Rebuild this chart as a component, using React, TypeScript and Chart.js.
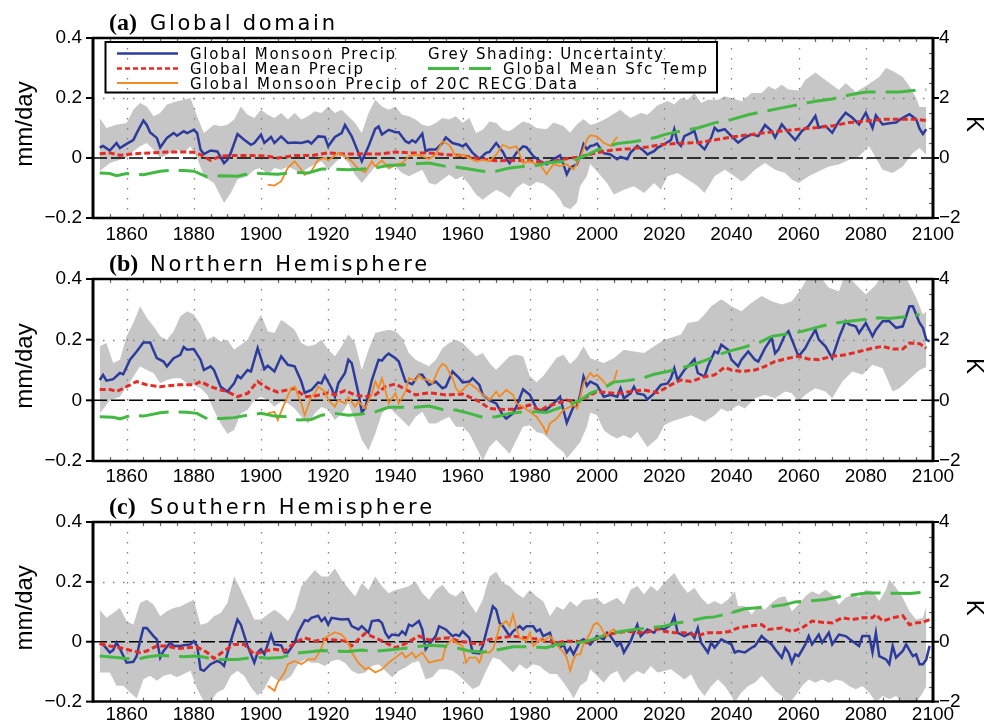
import React, { useEffect, useRef } from 'react';
import { Chart, registerables } from 'chart.js';
Chart.register(...registerables);

type P = [number, number];

// ---------- axis / tick data ----------
const xTickYears = [1860, 1880, 1900, 1920, 1940, 1960, 1980, 2000, 2020, 2040, 2060, 2080, 2100];
const gridYears = [1860, 1880, 1900, 1920, 1940, 1960, 1980, 2000, 2020, 2040, 2060, 2080];
const leftTickValues = [-0.2, 0, 0.2, 0.4];
const leftTickLabels = ['\u22120.2', '0', '0.2', '0.4'];
const rightTickValues = [-2, 0, 2, 4];
const rightTickLabels = ['\u22122', '0', '2', '4'];
const panelLetters = ['(a)', '(b)', '(c)'];
const panelTitles = ['Global domain', 'Northern Hemisphere', 'Southern Hemisphere'];
const leftAxisTitle = 'mm/day';
const rightAxisTitle = 'K';
const legendMonsoon = 'Global Monsoon Precip';
const legendMean = 'Global Mean Precip';
const legendRecg = 'Global Monsoon Precip of 20C RECG Data';
const legendShading = 'Grey Shading: Uncertainty';
const legendTemp = 'Global Mean Sfc Temp';

// ---------- (a) Global domain ----------
const aMonsoon: P[] = [[1852,0.035],[1853,0.04],[1855,0.025],[1857,0.05],[1858,0.033],[1860,0.047],[1862,0.06],[1863,0.083],[1865,0.125],[1866,0.11],[1867,0.085],[1869,0.067],[1870,0.035],[1872,0.067],[1874,0.083],[1875,0.074],[1877,0.089],[1878,0.083],[1880,0.094],[1881,0.083],[1882,0.028],[1883,0.013],[1885,0.025],[1887,0.022],[1889,-0.017],[1890,-0.006],[1891,0.017],[1893,0.08],[1895,0.061],[1897,0.044],[1898,0.05],[1900,0.078],[1901,0.05],[1903,0.07],[1904,0.05],[1906,0.072],[1908,0.05],[1910,0.052],[1912,0.05],[1914,0.056],[1915,0.048],[1917,0.072],[1919,0.07],[1920,0.039],[1922,0.07],[1924,0.083],[1925,0.11],[1927,0.072],[1929,0.017],[1930,-0.011],[1932,0.039],[1934,0.097],[1935,0.105],[1936,0.078],[1938,0.094],[1940,0.086],[1941,0.086],[1943,0.056],[1944,0.05],[1945,0.059],[1946,0.052],[1947,0.067],[1948,0.081],[1949,0.022],[1950,0.028],[1952,0.028],[1954,0.05],[1955,0.069],[1957,0.05],[1959,0.044],[1960,0.039],[1961,0.047],[1963,0.017],[1965,-0.003],[1967,0.017],[1968,0.02],[1970,0.05],[1972,0.02],[1973,-0.003],[1974,-0.017],[1976,0.017],[1978,0.039],[1979,0.036],[1981,0.007],[1983,-0.01],[1985,-0.021],[1987,-0.004],[1989,0.009],[1990,-0.021],[1991,-0.054],[1992,-0.032],[1994,-0.021],[1995,0.007],[1996,0.046],[1997,0.029],[1998,0.04],[1999,0.042],[2000,0.048],[2002,0.016],[2004,0.012],[2006,-0.004],[2007,0.004],[2009,-0.004],[2010,0.018],[2012,0.04],[2014,0.023],[2015,0.012],[2017,0.023],[2018,0.034],[2020,0.046],[2022,0.06],[2023,0.096],[2024,0.051],[2025,0.04],[2026,0.073],[2028,0.084],[2029,0.09],[2030,0.051],[2032,0.029],[2034,0.068],[2035,0.101],[2036,0.09],[2038,0.096],[2040,0.073],[2042,0.051],[2044,0.068],[2046,0.079],[2048,0.073],[2050,0.11],[2052,0.09],[2053,0.068],[2055,0.112],[2057,0.084],[2059,0.06],[2061,0.09],[2063,0.107],[2065,0.14],[2066,0.101],[2068,0.107],[2070,0.084],[2072,0.123],[2074,0.151],[2076,0.134],[2078,0.112],[2080,0.151],[2082,0.1],[2083,0.142],[2085,0.112],[2087,0.116],[2089,0.118],[2091,0.134],[2093,0.146],[2095,0.129],[2096,0.098],[2097,0.08],[2098,0.096]];
const aMean: P[] = [[1852,0.014],[1855,0.017],[1858,0.009],[1862,0.014],[1867,0.017],[1872,0.02],[1877,0.02],[1880,0.019],[1882,0.011],[1885,-0.008],[1888,0.006],[1892,0.008],[1897,0.008],[1902,0.006],[1905,0],[1910,0.008],[1915,0.008],[1920,0.017],[1925,0.013],[1930,0.014],[1935,0.013],[1940,0.02],[1945,0.017],[1950,0.017],[1955,0.011],[1960,0.008],[1965,-0.003],[1970,-0.009],[1975,-0.008],[1980,-0.009],[1985,-0.016],[1990,-0.004],[1995,0.004],[2000,0.018],[2005,0.027],[2010,0.031],[2015,0.037],[2020,0.046],[2025,0.049],[2030,0.051],[2035,0.06],[2040,0.07],[2045,0.077],[2050,0.084],[2055,0.09],[2060,0.096],[2065,0.101],[2070,0.107],[2075,0.118],[2080,0.123],[2085,0.129],[2090,0.129],[2095,0.129],[2098,0.125]];
const aTemp: P[] = [[1852,-0.5],[1855,-0.52],[1857,-0.59],[1860,-0.52],[1865,-0.56],[1870,-0.44],[1873,-0.41],[1877,-0.42],[1880,-0.44],[1884,-0.63],[1888,-0.59],[1893,-0.61],[1897,-0.5],[1900,-0.52],[1905,-0.54],[1910,-0.48],[1914,-0.5],[1918,-0.37],[1922,-0.37],[1926,-0.39],[1930,-0.37],[1934,-0.33],[1938,-0.24],[1942,-0.23],[1946,-0.19],[1950,-0.17],[1955,-0.28],[1958,-0.3],[1962,-0.37],[1966,-0.44],[1970,-0.44],[1974,-0.33],[1978,-0.28],[1982,-0.25],[1985,-0.17],[1990,-0.11],[1994,-0.04],[1997,0.1],[2000,0.26],[2006,0.48],[2010,0.53],[2015,0.62],[2018,0.7],[2020,0.78],[2025,0.9],[2030,1.0],[2035,1.17],[2040,1.28],[2045,1.44],[2050,1.56],[2055,1.67],[2060,1.78],[2065,1.89],[2070,1.97],[2075,2.1],[2080,2.2],[2085,2.2],[2090,2.2],[2095,2.26],[2098,2.28]];
const aRecg: P[] = [[1902,-0.089],[1904,-0.092],[1906,-0.078],[1908,-0.033],[1910,-0.011],[1912,-0.039],[1913,-0.056],[1915,-0.044],[1917,-0.006],[1919,0],[1920,-0.008],[1922,0.008],[1923,0.017],[1925,0.006],[1927,-0.011],[1929,-0.037],[1931,-0.048],[1933,-0.011],[1934,-0.028],[1936,-0.008],[1938,-0.033],[1940,-0.022],[1942,-0.017],[1944,0.006],[1946,0.011],[1948,0.006],[1950,-0.003],[1952,0.011],[1954,0.056],[1956,0.044],[1958,0.006],[1960,0.011],[1962,0],[1964,-0.011],[1966,-0.006],[1968,-0.011],[1970,0.011],[1972,0.044],[1974,0.033],[1976,0.039],[1978,-0.017],[1980,-0.011],[1982,-0.022],[1983,-0.021],[1985,-0.054],[1987,-0.021],[1989,-0.027],[1991,-0.021],[1993,-0.038],[1995,0.001],[1997,0.062],[1998,0.076],[2000,0.071],[2002,0.051],[2004,0.04],[2006,0.071]];
const aUpper: P[] = [[1852,0.133],[1854,0.1],[1857,0.111],[1860,0.117],[1862,0.161],[1864,0.183],[1866,0.172],[1868,0.139],[1870,0.15],[1872,0.178],[1875,0.189],[1877,0.194],[1879,0.2],[1881,0.139],[1883,0.083],[1886,0.111],[1888,0.106],[1890,0.111],[1892,0.128],[1894,0.172],[1896,0.144],[1898,0.133],[1900,0.161],[1902,0.144],[1904,0.133],[1906,0.15],[1908,0.128],[1910,0.15],[1912,0.128],[1914,0.139],[1916,0.156],[1918,0.15],[1920,0.172],[1922,0.15],[1924,0.161],[1926,0.139],[1928,0.117],[1930,0.083],[1932,0.15],[1934,0.194],[1936,0.172],[1938,0.161],[1940,0.172],[1942,0.144],[1944,0.139],[1946,0.128],[1948,0.111],[1950,0.106],[1952,0.117],[1954,0.133],[1956,0.128],[1958,0.139],[1960,0.117],[1962,0.133],[1964,0.083],[1966,0.094],[1968,0.122],[1970,0.117],[1972,0.094],[1974,0.089],[1976,0.106],[1978,0.122],[1980,0.115],[1982,0.1],[1985,0.096],[1987,0.118],[1990,0.107],[1992,0.084],[1994,0.112],[1996,0.13],[1998,0.11],[2000,0.117],[2003,0.133],[2007,0.161],[2008,0.15],[2010,0.133],[2013,0.15],[2015,0.144],[2018,0.175],[2021,0.19],[2023,0.178],[2025,0.2],[2027,0.194],[2029,0.217],[2031,0.183],[2033,0.194],[2036,0.194],[2038,0.206],[2040,0.2],[2043,0.189],[2046,0.217],[2049,0.217],[2051,0.239],[2053,0.228],[2055,0.244],[2057,0.228],[2060,0.225],[2062,0.26],[2065,0.285],[2068,0.26],[2072,0.227],[2074,0.25],[2077,0.22],[2080,0.24],[2084,0.27],[2086,0.3],[2088,0.29],[2091,0.27],[2093,0.239],[2095,0.2],[2096,0.17],[2098,0.17]];
const aLower: P[] = [[1852,-0.044],[1855,-0.017],[1858,-0.006],[1860,0],[1862,0.022],[1864,0.039],[1866,0.05],[1868,0.028],[1870,0],[1872,0.011],[1875,0.028],[1877,0.017],[1879,0.039],[1881,0],[1883,-0.061],[1886,-0.083],[1888,-0.128],[1889,-0.15],[1891,-0.117],[1893,-0.072],[1896,-0.061],[1898,-0.039],[1900,-0.033],[1902,-0.056],[1904,-0.033],[1906,-0.039],[1908,-0.028],[1910,-0.039],[1912,-0.05],[1914,-0.033],[1916,-0.022],[1918,-0.011],[1920,-0.039],[1922,-0.017],[1924,0.006],[1926,-0.017],[1928,-0.056],[1930,-0.083],[1932,-0.056],[1934,-0.028],[1936,-0.022],[1938,-0.039],[1940,-0.028],[1942,-0.05],[1944,-0.061],[1946,-0.05],[1948,-0.039],[1950,-0.083],[1952,-0.089],[1954,-0.072],[1956,-0.056],[1958,-0.072],[1960,-0.061],[1962,-0.089],[1964,-0.122],[1966,-0.139],[1968,-0.122],[1970,-0.106],[1972,-0.117],[1974,-0.133],[1976,-0.1],[1978,-0.083],[1980,-0.095],[1982,-0.08],[1984,-0.085],[1987,-0.11],[1989,-0.138],[1990,-0.16],[1992,-0.171],[1994,-0.149],[1995,-0.093],[1997,-0.06],[1998,-0.02],[2000,-0.045],[2003,-0.083],[2005,-0.122],[2008,-0.106],[2011,-0.094],[2014,-0.117],[2017,-0.083],[2019,-0.106],[2021,-0.061],[2024,-0.05],[2027,-0.072],[2030,-0.094],[2032,-0.117],[2035,-0.061],[2038,-0.039],[2041,-0.061],[2043,-0.078],[2044,-0.072],[2047,-0.039],[2050,-0.017],[2053,-0.039],[2056,-0.05],[2058,-0.072],[2060,-0.083],[2063,-0.061],[2066,-0.044],[2069,-0.028],[2072,-0.022],[2075,-0.006],[2078,0.006],[2081,0.039],[2083,0],[2085,-0.039],[2088,-0.05],[2091,-0.028],[2094,0.017],[2096,0.033],[2098,0.011]];

// ---------- (b) Northern Hemisphere ----------
const bMonsoon: P[] = [[1852,0.067],[1853,0.084],[1854,0.065],[1856,0.07],[1858,0.09],[1859,0.086],[1861,0.134],[1863,0.161],[1865,0.191],[1867,0.191],[1869,0.139],[1871,0.128],[1872,0.112],[1874,0.139],[1876,0.15],[1877,0.176],[1878,0.167],[1880,0.169],[1882,0.134],[1883,0.1],[1885,0.112],[1886,0.1],[1888,0.045],[1890,0.029],[1892,0.056],[1893,0.081],[1894,0.073],[1896,0.1],[1897,0.095],[1899,0.172],[1901,0.103],[1902,0.114],[1904,0.095],[1906,0.145],[1908,0.117],[1910,0.112],[1912,0.062],[1913,0.025],[1915,0.034],[1917,0.059],[1918,0.056],[1919,0.081],[1921,0.04],[1922,0.012],[1923,0.056],[1925,0.09],[1926,0.134],[1927,0.123],[1929,0.023],[1930,-0.038],[1931,-0.027],[1933,0.067],[1935,0.134],[1936,0.131],[1937,0.145],[1938,0.154],[1940,0.139],[1941,0.128],[1943,0.062],[1945,0.053],[1947,0.084],[1948,0.084],[1950,0.051],[1952,0.062],[1954,0.04],[1955,0.045],[1957,0.095],[1959,0.073],[1960,0.059],[1962,0.062],[1963,0.073],[1965,0.051],[1966,0.018],[1968,0],[1970,-0.01],[1972,-0.049],[1973,-0.06],[1975,-0.043],[1976,-0.021],[1978,0.036],[1980,0.018],[1982,-0.027],[1984,-0.038],[1986,-0.021],[1988,0],[1989,0.012],[1990,-0.032],[1991,-0.074],[1993,-0.021],[1994,-0.021],[1995,0.018],[1996,0.078],[1997,0.048],[1998,0.062],[2000,0.051],[2002,0.012],[2004,0.018],[2006,0.012],[2007,0.04],[2008,0.007],[2010,0.023],[2011,0.045],[2012,0.023],[2014,0.018],[2015,0.003],[2017,0.023],[2019,0.051],[2021,0.056],[2022,0.073],[2023,0.106],[2024,0.067],[2026,0.1],[2028,0.123],[2029,0.136],[2030,0.09],[2032,0.078],[2033,0.112],[2035,0.161],[2036,0.155],[2037,0.183],[2039,0.167],[2040,0.134],[2042,0.112],[2043,0.134],[2045,0.161],[2047,0.134],[2048,0.128],[2050,0.172],[2052,0.206],[2053,0.155],[2054,0.167],[2056,0.217],[2057,0.228],[2059,0.172],[2060,0.145],[2062,0.172],[2063,0.194],[2065,0.233],[2066,0.2],[2068,0.178],[2070,0.139],[2072,0.206],[2074,0.261],[2075,0.25],[2077,0.244],[2078,0.222],[2080,0.255],[2082,0.211],[2083,0.233],[2085,0.261],[2087,0.261],[2089,0.239],[2091,0.244],[2093,0.31],[2094,0.31],[2096,0.255],[2097,0.239],[2098,0.2],[2099,0.194]];
const bMean: P[] = [[1852,0.036],[1855,0.036],[1857,0.029],[1860,0.045],[1863,0.062],[1866,0.051],[1870,0.045],[1875,0.051],[1880,0.051],[1882,0.062],[1885,0.045],[1888,0.034],[1890,0.029],[1893,0.012],[1896,0.023],[1899,0.062],[1902,0.04],[1905,0.027],[1910,0.04],[1913,0.012],[1916,0.014],[1920,0.025],[1922,0.018],[1925,0.032],[1928,0.018],[1931,0.012],[1934,0.018],[1937,0.045],[1940,0.054],[1943,0.036],[1946,0.018],[1950,0.025],[1955,0.018],[1960,0.021],[1965,-0.004],[1968,-0.027],[1972,-0.03],[1976,-0.029],[1980,-0.015],[1983,-0.034],[1985,-0.021],[1988,-0.01],[1991,0.001],[1994,-0.008],[1997,0.012],[2000,0.029],[2003,0.025],[2006,0.023],[2010,0.029],[2014,0.034],[2018,0.025],[2022,0.051],[2025,0.067],[2028,0.062],[2032,0.078],[2035,0.084],[2038,0.109],[2040,0.1],[2043,0.095],[2047,0.1],[2050,0.112],[2053,0.128],[2057,0.139],[2060,0.145],[2063,0.136],[2066,0.134],[2070,0.145],[2074,0.15],[2078,0.161],[2082,0.172],[2085,0.178],[2088,0.169],[2091,0.169],[2093,0.189],[2096,0.187],[2098,0.172]];
const bTemp: P[] = [[1852,-0.54],[1856,-0.56],[1858,-0.61],[1860,-0.54],[1862,-0.49],[1865,-0.52],[1870,-0.41],[1873,-0.38],[1878,-0.39],[1881,-0.43],[1884,-0.61],[1888,-0.6],[1892,-0.57],[1896,-0.49],[1900,-0.43],[1904,-0.52],[1908,-0.54],[1911,-0.65],[1915,-0.63],[1918,-0.49],[1922,-0.43],[1926,-0.49],[1930,-0.45],[1934,-0.38],[1938,-0.23],[1942,-0.23],[1946,-0.23],[1950,-0.19],[1954,-0.3],[1958,-0.32],[1962,-0.43],[1966,-0.56],[1970,-0.54],[1974,-0.43],[1978,-0.38],[1982,-0.38],[1985,-0.4],[1988,-0.28],[1992,-0.12],[1995,0.0],[1998,0.23],[2002,0.4],[2005,0.6],[2009,0.65],[2013,0.71],[2017,0.86],[2021,0.95],[2025,1.06],[2029,1.19],[2033,1.35],[2036,1.5],[2040,1.64],[2044,1.76],[2048,1.89],[2052,2.11],[2056,2.18],[2060,2.25],[2063,2.33],[2067,2.45],[2071,2.55],[2075,2.61],[2080,2.67],[2084,2.72],[2087,2.7],[2092,2.76],[2096,2.83]];
const bRecg: P[] = [[1902,-0.043],[1904,-0.038],[1905,-0.065],[1907,-0.01],[1909,0.04],[1910,0.045],[1912,-0.01],[1913,-0.049],[1915,0.012],[1916,0.023],[1917,0.045],[1919,0.029],[1920,0.001],[1922,-0.021],[1923,0.001],[1925,-0.01],[1926,0.01],[1928,-0.021],[1929,-0.004],[1931,-0.027],[1933,0.023],[1934,0.062],[1935,0.04],[1936,0.073],[1937,0.034],[1938,-0.01],[1940,0.023],[1941,-0.01],[1943,0.029],[1944,0.073],[1946,0.065],[1947,0.084],[1948,0.07],[1950,0.067],[1951,0.056],[1953,0.106],[1954,0.12],[1955,0.114],[1957,0.073],[1958,0.04],[1959,0.025],[1961,0.045],[1962,0.056],[1964,0.04],[1966,0.018],[1968,0.001],[1970,0.029],[1971,0.012],[1973,0.034],[1975,0.018],[1976,-0.01],[1978,-0.021],[1980,-0.038],[1982,-0.054],[1984,-0.087],[1985,-0.109],[1986,-0.076],[1988,-0.06],[1990,-0.032],[1992,-0.021],[1993,-0.015],[1994,-0.027],[1995,0.012],[1996,0.056],[1998,0.09],[1999,0.078],[2000,0.084],[2002,0.062],[2003,0.048],[2004,0.059],[2005,0.062],[2006,0.1]];
const bUpper: P[] = [[1852,0.178],[1854,0.189],[1856,0.123],[1858,0.134],[1860,0.211],[1862,0.255],[1864,0.31],[1866,0.272],[1868,0.244],[1870,0.211],[1872,0.2],[1874,0.228],[1876,0.277],[1878,0.294],[1880,0.283],[1882,0.25],[1884,0.2],[1886,0.211],[1888,0.194],[1890,0.2],[1892,0.167],[1894,0.183],[1896,0.2],[1898,0.244],[1900,0.283],[1902,0.228],[1904,0.222],[1906,0.266],[1908,0.25],[1910,0.233],[1912,0.189],[1914,0.178],[1916,0.183],[1918,0.2],[1920,0.167],[1922,0.145],[1924,0.178],[1926,0.217],[1928,0.189],[1930,0.1],[1932,0.167],[1934,0.222],[1936,0.228],[1938,0.233],[1940,0.228],[1942,0.206],[1944,0.156],[1946,0.134],[1948,0.123],[1950,0.112],[1952,0.134],[1954,0.172],[1956,0.189],[1958,0.2],[1960,0.189],[1962,0.167],[1964,0.145],[1966,0.156],[1968,0.123],[1970,0.1],[1972,0.123],[1974,0.145],[1976,0.15],[1978,0.145],[1980,0.08],[1982,0.06],[1984,0.08],[1986,0.11],[1988,0.14],[1990,0.15],[1992,0.12],[1994,0.14],[1996,0.178],[1998,0.139],[2002,0.123],[2005,0.139],[2008,0.167],[2011,0.161],[2014,0.156],[2017,0.178],[2020,0.2],[2022,0.206],[2025,0.217],[2027,0.255],[2030,0.261],[2032,0.283],[2034,0.31],[2037,0.333],[2040,0.31],[2043,0.294],[2046,0.322],[2049,0.344],[2052,0.327],[2055,0.316],[2058,0.327],[2061,0.371],[2063,0.41],[2067,0.4],[2069,0.371],[2072,0.36],[2074,0.42],[2077,0.382],[2080,0.349],[2083,0.38],[2085,0.42],[2089,0.42],[2092,0.404],[2095,0.338],[2097,0.283],[2098,0.294]];
const bLower: P[] = [[1852,-0.043],[1855,0],[1858,0.012],[1860,0.045],[1862,0.078],[1864,0.112],[1866,0.1],[1868,0.09],[1870,0.056],[1872,0.067],[1874,0.073],[1876,0.073],[1878,0.056],[1880,0.051],[1882,0.04],[1884,0.018],[1886,-0.033],[1888,-0.076],[1890,-0.11],[1892,-0.098],[1894,-0.043],[1896,-0.032],[1898,0],[1900,0.012],[1902,0],[1904,-0.021],[1906,-0.004],[1908,-0.01],[1910,-0.027],[1912,-0.054],[1914,-0.076],[1916,-0.043],[1918,-0.021],[1920,-0.032],[1922,-0.065],[1924,-0.043],[1926,-0.01],[1928,-0.065],[1930,-0.131],[1932,-0.165],[1934,-0.11],[1936,-0.043],[1938,-0.021],[1940,-0.043],[1942,-0.065],[1944,-0.087],[1946,-0.054],[1948,-0.038],[1950,-0.076],[1952,-0.076],[1954,-0.065],[1956,-0.054],[1958,-0.087],[1960,-0.087],[1962,-0.109],[1964,-0.153],[1966,-0.198],[1968,-0.153],[1970,-0.131],[1972,-0.153],[1974,-0.176],[1976,-0.131],[1978,-0.087],[1980,-0.082],[1982,-0.104],[1984,-0.11],[1986,-0.131],[1988,-0.153],[1990,-0.17],[1991,-0.192],[1993,-0.165],[1995,-0.137],[1997,-0.087],[1998,-0.04],[2000,-0.049],[2002,-0.098],[2004,-0.115],[2006,-0.126],[2008,-0.115],[2010,-0.126],[2012,-0.104],[2014,-0.137],[2015,-0.154],[2018,-0.126],[2020,-0.082],[2022,-0.071],[2025,-0.06],[2028,-0.049],[2030,-0.06],[2032,-0.071],[2035,-0.049],[2037,-0.027],[2039,-0.038],[2042,-0.015],[2044,-0.027],[2047,0.007],[2050,0.018],[2053,0.007],[2056,0.029],[2058,0.023],[2060,-0.004],[2062,0.018],[2065,0.04],[2068,0.029],[2070,0.007],[2073,0.062],[2076,0.095],[2079,0.084],[2082,0.117],[2085,0.106],[2088,0.029],[2090,0.04],[2092,0.06],[2094,0.08],[2096,0.1],[2098,0.11]];

// ---------- (c) Southern Hemisphere ----------
const cMonsoon: P[] = [[1852,-0.006],[1853,-0.009],[1855,-0.036],[1856,-0.028],[1857,-0.003],[1858,-0.023],[1860,-0.07],[1862,-0.067],[1863,-0.048],[1864,0.002],[1865,0.046],[1866,0.046],[1868,0.019],[1869,0.008],[1870,-0.053],[1871,-0.031],[1873,-0.003],[1874,-0.014],[1876,-0.014],[1877,-0.012],[1879,-0.009],[1880,0.002],[1881,-0.014],[1882,-0.092],[1883,-0.097],[1885,-0.075],[1887,-0.064],[1888,-0.07],[1889,-0.081],[1891,0.002],[1893,0.074],[1894,0.057],[1896,-0.014],[1898,-0.07],[1899,-0.036],[1900,-0.025],[1901,-0.042],[1903,0.024],[1904,-0.009],[1906,-0.012],[1907,-0.036],[1908,-0.036],[1910,-0.003],[1911,0.03],[1913,0.072],[1914,0.069],[1915,0.08],[1917,0.087],[1918,0.069],[1919,0.08],[1920,0.057],[1921,0.08],[1923,0.076],[1924,0.074],[1926,0.076],[1927,0.052],[1929,0.041],[1930,0.052],[1932,0.03],[1933,0.069],[1935,0.072],[1936,0.063],[1937,0.03],[1938,0.013],[1939,0.024],[1941,0.021],[1942,0.035],[1943,0.024],[1944,0.057],[1945,0.052],[1947,0.069],[1948,0.041],[1949,-0.025],[1950,-0.009],[1952,0.019],[1953,0.052],[1955,0.041],[1957,0.019],[1958,0.024],[1959,0.019],[1960,0.035],[1962,0.013],[1963,-0.036],[1965,-0.039],[1966,-0.014],[1967,0.03],[1969,0.118],[1970,0.107],[1971,0.063],[1972,0.052],[1974,0.019],[1975,0.035],[1977,0.052],[1978,0.041],[1979,0.052],[1981,0.052],[1982,0.035],[1983,0.041],[1984,0.019],[1986,0.03],[1987,-0.014],[1988,-0.003],[1989,-0.02],[1990,-0.009],[1991,-0.036],[1992,-0.02],[1993,-0.042],[1995,0.002],[1996,0.008],[1998,-0.009],[2000,0.019],[2002,0.008],[2003,0.03],[2004,0.019],[2006,-0.014],[2007,-0.003],[2008,-0.036],[2010,0.002],[2011,0.03],[2012,0.057],[2013,0.019],[2015,0.041],[2017,0.03],[2018,0.046],[2020,0.041],[2022,0.057],[2023,0.085],[2024,0.03],[2026,0.019],[2028,0.03],[2029,0.013],[2030,0.046],[2031,-0.003],[2033,-0.036],[2034,-0.003],[2035,-0.02],[2037,0.008],[2038,0.002],[2040,-0.009],[2041,-0.036],[2042,-0.031],[2044,-0.036],[2046,-0.02],[2047,-0.014],[2049,0.019],[2050,0.008],[2052,-0.009],[2053,-0.025],[2055,-0.053],[2056,-0.02],[2057,-0.036],[2058,-0.07],[2059,-0.042],[2060,-0.048],[2062,-0.009],[2063,0.019],[2064,-0.009],[2066,0.024],[2067,-0.003],[2069,0.03],[2070,-0.009],[2072,0.024],[2074,0.019],[2076,0.002],[2078,-0.014],[2079,0.019],[2081,0.019],[2082,-0.036],[2083,0.03],[2084,-0.048],[2086,-0.059],[2087,-0.075],[2088,-0.014],[2089,-0.053],[2091,-0.031],[2092,-0.009],[2094,-0.048],[2095,-0.042],[2096,-0.075],[2097,-0.075],[2098,-0.059],[2099,-0.014]];
const cMean: P[] = [[1852,-0.006],[1855,-0.014],[1858,-0.02],[1862,-0.031],[1864,-0.036],[1866,-0.031],[1869,-0.014],[1872,-0.014],[1875,-0.023],[1878,-0.02],[1881,-0.018],[1884,-0.036],[1886,-0.056],[1889,-0.031],[1892,-0.009],[1895,-0.009],[1898,-0.042],[1901,-0.031],[1904,-0.025],[1907,-0.031],[1910,-0.003],[1913,0.013],[1916,0.002],[1919,0.008],[1922,0.006],[1925,0.002],[1927,-0.014],[1929,0.008],[1931,0.028],[1934,0.013],[1937,-0.003],[1940,-0.02],[1943,-0.006],[1947,0.019],[1950,0.006],[1953,0.01],[1956,0.013],[1959,0.002],[1962,-0.003],[1965,-0.009],[1968,0.008],[1971,0.013],[1975,0.019],[1979,0.013],[1983,0.008],[1985,0.002],[1988,-0.003],[1991,0.002],[1994,0.002],[1997,-0.003],[2000,0.01],[2003,0.024],[2006,0.03],[2009,0.035],[2012,0.03],[2015,0.032],[2018,0.043],[2020,0.035],[2023,0.03],[2026,0.03],[2030,0.021],[2033,0.03],[2036,0.03],[2039,0.033],[2042,0.046],[2045,0.052],[2049,0.057],[2051,0.041],[2055,0.046],[2058,0.034],[2061,0.046],[2064,0.069],[2067,0.065],[2070,0.063],[2073,0.08],[2076,0.074],[2079,0.08],[2082,0.08],[2083,0.091],[2085,0.069],[2088,0.08],[2091,0.087],[2093,0.057],[2095,0.063],[2097,0.065],[2099,0.074]];
const cTemp: P[] = [[1852,-0.48],[1857,-0.53],[1860,-0.56],[1863,-0.59],[1866,-0.51],[1870,-0.45],[1873,-0.48],[1877,-0.5],[1880,-0.48],[1883,-0.51],[1886,-0.59],[1889,-0.59],[1893,-0.59],[1897,-0.53],[1900,-0.53],[1902,-0.55],[1906,-0.53],[1910,-0.39],[1914,-0.34],[1918,-0.29],[1922,-0.31],[1926,-0.33],[1930,-0.28],[1934,-0.32],[1938,-0.28],[1942,-0.23],[1946,-0.17],[1950,-0.12],[1954,-0.14],[1958,-0.2],[1962,-0.31],[1966,-0.34],[1970,-0.28],[1975,-0.17],[1980,-0.17],[1985,-0.2],[1988,-0.09],[1993,-0.06],[1997,0.02],[2000,0.12],[2004,0.28],[2008,0.36],[2011,0.41],[2016,0.47],[2020,0.52],[2023,0.61],[2028,0.7],[2032,0.8],[2035,0.83],[2040,0.97],[2044,1.1],[2047,1.13],[2052,1.18],[2056,1.24],[2059,1.33],[2064,1.37],[2068,1.41],[2072,1.5],[2076,1.56],[2080,1.63],[2084,1.63],[2089,1.62],[2093,1.61],[2097,1.65]];
const cRecg: P[] = [[1902,-0.147],[1904,-0.164],[1905,-0.136],[1907,-0.103],[1908,-0.075],[1910,-0.064],[1912,-0.075],[1914,-0.059],[1916,-0.059],[1917,-0.042],[1918,-0.02],[1919,0.013],[1920,0.019],[1922,0.032],[1924,0.024],[1926,-0.003],[1927,-0.036],[1929,-0.07],[1931,-0.092],[1932,-0.086],[1934,-0.103],[1936,-0.092],[1938,-0.07],[1940,-0.053],[1942,-0.036],[1943,-0.053],[1945,-0.036],[1946,-0.053],[1948,-0.036],[1950,-0.07],[1952,-0.064],[1954,-0.059],[1955,-0.014],[1957,0.008],[1958,-0.003],[1960,-0.014],[1961,-0.07],[1962,-0.053],[1964,-0.053],[1965,-0.07],[1966,-0.036],[1968,-0.036],[1969,-0.025],[1970,0.008],[1971,0.052],[1973,0.069],[1974,0.052],[1975,0.091],[1976,0.046],[1977,0.013],[1979,0.002],[1980,0.03],[1981,-0.014],[1983,0.008],[1984,0.002],[1986,0.019],[1988,-0.009],[1990,-0.036],[1991,-0.053],[1992,-0.097],[1993,-0.059],[1994,-0.042],[1995,-0.042],[1996,-0.009],[1998,0.03],[1999,0.057],[2000,0.063],[2001,0.052],[2002,0.03],[2003,0.019],[2004,0.035],[2005,0.041],[2006,0.03]];
const cUpper: P[] = [[1852,0.107],[1854,0.08],[1856,0.096],[1858,0.113],[1860,0.069],[1862,0.057],[1864,0.129],[1866,0.14],[1868,0.124],[1870,0.085],[1872,0.102],[1874,0.113],[1876,0.118],[1878,0.129],[1880,0.14],[1882,0.057],[1884,0.063],[1886,0.085],[1888,0.096],[1890,0.129],[1892,0.218],[1894,0.173],[1896,0.124],[1898,0.074],[1900,0.074],[1902,0.091],[1904,0.107],[1906,0.091],[1908,0.069],[1910,0.107],[1912,0.185],[1914,0.212],[1916,0.24],[1918,0.218],[1920,0.218],[1922,0.245],[1924,0.207],[1926,0.179],[1928,0.151],[1930,0.196],[1932,0.173],[1934,0.218],[1936,0.185],[1938,0.162],[1940,0.173],[1942,0.179],[1944,0.185],[1946,0.201],[1948,0.162],[1950,0.14],[1952,0.173],[1954,0.19],[1956,0.162],[1958,0.151],[1960,0.173],[1962,0.129],[1964,0.096],[1966,0.14],[1968,0.218],[1970,0.234],[1972,0.196],[1974,0.185],[1976,0.162],[1978,0.146],[1980,0.173],[1982,0.151],[1984,0.135],[1986,0.085],[1988,0.118],[1990,0.107],[1992,0.135],[1994,0.118],[1996,0.14],[1998,0.141],[2000,0.147],[2002,0.124],[2004,0.136],[2006,0.147],[2008,0.124],[2010,0.174],[2012,0.186],[2014,0.158],[2016,0.186],[2018,0.169],[2020,0.197],[2022,0.219],[2023,0.23],[2025,0.191],[2027,0.163],[2029,0.18],[2031,0.147],[2033,0.124],[2035,0.136],[2037,0.124],[2039,0.141],[2041,0.169],[2042,0.119],[2044,0.119],[2046,0.091],[2048,0.119],[2050,0.108],[2052,0.13],[2054,0.147],[2056,0.152],[2058,0.102],[2060,0.124],[2062,0.152],[2064,0.169],[2066,0.158],[2068,0.174],[2070,0.158],[2072,0.124],[2074,0.147],[2076,0.158],[2078,0.147],[2080,0.174],[2082,0.169],[2084,0.136],[2086,0.174],[2087,0.208],[2089,0.18],[2091,0.147],[2093,0.102],[2095,0.074],[2097,0.08],[2098,0.119]];
const cLower: P[] = [[1852,-0.103],[1855,-0.103],[1857,-0.147],[1859,-0.147],[1861,-0.169],[1863,-0.19],[1865,-0.125],[1867,-0.114],[1869,-0.13],[1871,-0.114],[1873,-0.108],[1875,-0.119],[1877,-0.108],[1879,-0.097],[1881,-0.158],[1883,-0.2],[1885,-0.2],[1887,-0.169],[1889,-0.158],[1891,-0.114],[1893,-0.097],[1895,-0.114],[1897,-0.152],[1899,-0.18],[1901,-0.158],[1903,-0.114],[1905,-0.13],[1907,-0.13],[1909,-0.114],[1911,-0.075],[1913,-0.059],[1915,-0.07],[1917,-0.07],[1919,-0.081],[1921,-0.064],[1923,-0.059],[1925,-0.07],[1927,-0.097],[1929,-0.108],[1931,-0.103],[1933,-0.081],[1935,-0.075],[1937,-0.097],[1939,-0.119],[1941,-0.097],[1943,-0.086],[1945,-0.07],[1947,-0.064],[1949,-0.125],[1951,-0.119],[1953,-0.092],[1955,-0.092],[1957,-0.097],[1959,-0.114],[1961,-0.136],[1963,-0.158],[1965,-0.147],[1967,-0.097],[1969,-0.053],[1971,-0.059],[1973,-0.081],[1975,-0.103],[1977,-0.075],[1979,-0.092],[1981,-0.075],[1983,-0.081],[1984,-0.092],[1986,-0.108],[1988,-0.108],[1990,-0.136],[1992,-0.169],[1993,-0.19],[1995,-0.147],[1997,-0.13],[1998,-0.092],[2000,-0.114],[2002,-0.137],[2004,-0.109],[2006,-0.098],[2008,-0.137],[2010,-0.114],[2012,-0.098],[2014,-0.109],[2016,-0.081],[2018,-0.103],[2020,-0.098],[2022,-0.092],[2024,-0.109],[2026,-0.126],[2028,-0.109],[2030,-0.153],[2032,-0.181],[2034,-0.148],[2036,-0.126],[2038,-0.148],[2040,-0.181],[2041,-0.203],[2043,-0.17],[2045,-0.148],[2047,-0.137],[2049,-0.114],[2051,-0.137],[2053,-0.164],[2055,-0.181],[2057,-0.209],[2059,-0.181],[2061,-0.148],[2063,-0.126],[2065,-0.137],[2067,-0.126],[2069,-0.137],[2071,-0.126],[2073,-0.131],[2075,-0.148],[2077,-0.159],[2079,-0.148],[2081,-0.17],[2083,-0.203],[2085,-0.181],[2087,-0.192],[2089,-0.181],[2091,-0.203],[2093,-0.214],[2095,-0.203],[2097,-0.17],[2098,-0.148]];

// ---------- styles ----------
const BLUE = '#2c3b9c';
const RED = '#e52b25';
const GREEN = '#43b843';
const ORANGE = '#f28a21';
const GREY = '#c6c6c6';
const TICK_FONT = "'Liberation Sans', Arial, sans-serif";
const TEXT_FONT = "'DejaVu Sans', sans-serif";

interface PanelDef {
  idx: number;
  top: number;
  h: number;
  padTop: number;
  plotBottom: number;
  xPad: number;
  legend: boolean;
  monsoon: P[]; mean: P[]; temp: P[]; recg: P[]; upper: P[]; lower: P[];
}

const panels: PanelDef[] = [
  { idx: 0, top: 0, h: 250, padTop: 38, plotBottom: 218, xPad: 5, legend: true, monsoon: aMonsoon, mean: aMean, temp: aTemp, recg: aRecg, upper: aUpper, lower: aLower },
  { idx: 1, top: 250, h: 240, padTop: 29, plotBottom: 211, xPad: 4, legend: false, monsoon: bMonsoon, mean: bMean, temp: bTemp, recg: bRecg, upper: bUpper, lower: bLower },
  { idx: 2, top: 490, h: 234, padTop: 32, plotBottom: 212, xPad: 2, legend: false, monsoon: cMonsoon, mean: cMean, temp: cTemp, recg: cRecg, upper: cUpper, lower: cLower },
];

const toXY = (arr: P[]) => arr.map(([x, y]) => ({ x, y }));

function line(ctx: CanvasRenderingContext2D, x1: number, y1: number, x2: number, y2: number) {
  ctx.beginPath();
  ctx.moveTo(x1, y1);
  ctx.lineTo(x2, y2);
  ctx.stroke();
}

// draw text spread (via letter spacing) so that it spans the given width
function fitText(ctx: CanvasRenderingContext2D, text: string, x: number, y: number, width: number) {
  const c = ctx as any;
  c.letterSpacing = '0px';
  const w = ctx.measureText(text).width;
  const s = Math.max(0, (width - w) / Math.max(1, text.length - 1));
  c.letterSpacing = s.toFixed(2) + 'px';
  ctx.fillText(text, x, y);
  c.letterSpacing = '0px';
}

function drawGrid(chart: any) {
  const { ctx, chartArea: a, scales } = chart;
  const x = scales.x, y = scales.y;
  ctx.save();
  ctx.strokeStyle = '#808080';
  ctx.lineWidth = 1.3;
  ctx.setLineDash([1.5, 8.5]);
  for (const yr of gridYears) {
    const px = Math.round(x.getPixelForValue(yr)) + 0.5;
    line(ctx, px, a.top, px, a.bottom);
  }
  const py = Math.round(y.getPixelForValue(0.2)) + 0.5;
  line(ctx, a.left, py, a.right, py);
  ctx.strokeStyle = '#000';
  ctx.lineWidth = 1.5;
  ctx.setLineDash([14, 4]);
  const z = y.getPixelForValue(0);
  line(ctx, a.left, z, a.right, z);
  ctx.restore();
}

const titleWidths = [185, 277, 282];

function drawFrame(chart: any, p: PanelDef) {
  const { ctx, chartArea: a, scales } = chart;
  const x = scales.x, y = scales.y, y2 = scales.y2;
  ctx.save();
  ctx.setLineDash([]);
  // minor ticks
  ctx.strokeStyle = '#666';
  ctx.lineWidth = 1.2;
  for (let yr = 1855; yr < 2100; yr += 5) {
    if (yr % 20 === 0) continue;
    const px = Math.round(x.getPixelForValue(yr)) + 0.5;
    line(ctx, px, a.top, px, a.top + 4);
    line(ctx, px, a.bottom - 4, px, a.bottom);
  }
  for (let k = -1.5; k < 4; k += 0.5) {
    if (Math.abs(k % 2) < 1e-6) continue;
    const py = Math.round(y2.getPixelForValue(k)) + 0.5;
    line(ctx, a.right - 4, py, a.right, py);
  }
  // frame
  ctx.strokeStyle = '#000';
  ctx.lineWidth = 2.5;
  line(ctx, a.left - 1, a.top, a.right + 1, a.top);
  line(ctx, a.left - 1, a.bottom, a.right + 1, a.bottom);
  ctx.lineWidth = 3;
  line(ctx, a.left, a.top - 1, a.left, a.bottom + 1);
  line(ctx, a.right, a.top - 1, a.right, a.bottom + 1);
  // major outward ticks
  ctx.lineWidth = 2;
  for (const v of leftTickValues) {
    const py = y.getPixelForValue(v);
    line(ctx, a.left - 7, py, a.left, py);
  }
  for (const v of rightTickValues) {
    const py = y2.getPixelForValue(v);
    line(ctx, a.right, py, a.right + 6, py);
  }
  // panel title
  const baseline = a.top - 8.5;
  ctx.fillStyle = '#000';
  ctx.textAlign = 'left';
  ctx.textBaseline = 'alphabetic';
  ctx.font = "bold 24px 'Liberation Serif', serif";
  ctx.fillText(panelLetters[p.idx], 109, baseline);
  ctx.font = `21px ${TEXT_FONT}`;
  fitText(ctx, panelTitles[p.idx], 150, baseline, titleWidths[p.idx]);
  // axis titles
  const cy = (a.top + a.bottom) / 2 - 4;
  ctx.font = `24px ${TICK_FONT}`;
  ctx.textAlign = 'center';
  ctx.save();
  ctx.translate(32, cy);
  ctx.rotate(-Math.PI / 2);
  ctx.fillText(leftAxisTitle, 0, 0);
  ctx.restore();
  ctx.save();
  ctx.translate(967, cy);
  ctx.rotate(Math.PI / 2);
  ctx.fillText(rightAxisTitle, 0, 0);
  ctx.restore();
  // legend
  if (p.legend) {
    ctx.lineWidth = 2;
    ctx.strokeStyle = '#000';
    ctx.strokeRect(105.5, 42, 611.5, 50.5);
    const rows = [53.5, 68.5, 83];
    ctx.lineWidth = 2.5;
    ctx.strokeStyle = BLUE;
    line(ctx, 117, rows[0], 178, rows[0]);
    ctx.strokeStyle = RED;
    ctx.setLineDash([5, 3]);
    line(ctx, 117, rows[1], 178, rows[1]);
    ctx.setLineDash([]);
    ctx.strokeStyle = ORANGE;
    ctx.lineWidth = 2;
    line(ctx, 117, rows[2], 178, rows[2]);
    ctx.strokeStyle = GREEN;
    ctx.lineWidth = 3;
    ctx.setLineDash([31, 10]);
    line(ctx, 428, rows[1], 491, rows[1]);
    ctx.setLineDash([]);
    ctx.fillStyle = '#000';
    ctx.textAlign = 'left';
    ctx.textBaseline = 'alphabetic';
    ctx.font = `15px ${TEXT_FONT}`;
    fitText(ctx, legendMonsoon, 190, 59, 205);
    fitText(ctx, legendShading, 428, 59, 235);
    fitText(ctx, legendMean, 190, 74, 173);
    fitText(ctx, legendTemp, 503, 74, 204);
    fitText(ctx, legendRecg, 190, 88.5, 387);
  }
  ctx.restore();
}

function buildConfig(p: PanelDef): any {
  const plugin = {
    id: 'nclFrame' + p.idx,
    afterDatasetDraw(chart: any, args: any) {
      if (args.index === 4) drawGrid(chart);
    },
    afterDraw(chart: any) {
      drawFrame(chart, p);
    },
  };
  const base = { pointRadius: 0, pointHoverRadius: 0, tension: 0, fill: false };
  return {
    type: 'line',
    data: {
      datasets: [
        { ...base, label: 'temp', data: toXY(p.temp), yAxisID: 'y2', borderColor: GREEN, borderWidth: 3, borderDash: [30, 10] },
        { ...base, label: 'recg', data: toXY(p.recg), yAxisID: 'y', borderColor: ORANGE, borderWidth: 1.8 },
        { ...base, label: 'mean', data: toXY(p.mean), yAxisID: 'y', borderColor: RED, borderWidth: 3, borderDash: [6, 3] },
        { ...base, label: 'monsoon', data: toXY(p.monsoon), yAxisID: 'y', borderColor: BLUE, borderWidth: 2.5 },
        { ...base, label: 'upper', data: toXY(p.upper), yAxisID: 'y', borderColor: 'rgba(0,0,0,0)', borderWidth: 0, backgroundColor: GREY },
        { ...base, label: 'lower', data: toXY(p.lower), yAxisID: 'y', borderColor: 'rgba(0,0,0,0)', borderWidth: 0, backgroundColor: GREY, fill: '-1' },
      ],
    },
    options: {
      responsive: false,
      animation: false,
      events: [],
      layout: { padding: { top: p.padTop, left: 0, right: 0, bottom: 0 } },
      plugins: { legend: { display: false }, tooltip: { enabled: false }, title: { display: false } },
      scales: {
        x: {
          type: 'linear',
          min: 1850,
          max: 2100,
          grid: { display: false, drawTicks: false },
          border: { display: false },
          afterBuildTicks: (s: any) => { s.ticks = xTickYears.map((v) => ({ value: v })); },
          afterFit: (s: any) => { s.height = p.h - p.plotBottom; },
          ticks: {
            autoSkip: false,
            maxRotation: 0,
            padding: p.xPad,
            color: '#000',
            font: { family: TICK_FONT, size: 19 },
            callback: (v: number) => String(v),
          },
        },
        y: {
          type: 'linear',
          position: 'left',
          min: -0.2,
          max: 0.4,
          grid: { display: false, drawTicks: false },
          border: { display: false },
          afterBuildTicks: (s: any) => { s.ticks = leftTickValues.map((v) => ({ value: v })); },
          afterFit: (s: any) => { s.width = 93; },
          ticks: {
            padding: 11,
            color: '#000',
            font: { family: TICK_FONT, size: 19 },
            callback: (v: number) => leftTickLabels[leftTickValues.indexOf(v)] ?? '',
          },
        },
        y2: {
          type: 'linear',
          position: 'right',
          min: -2,
          max: 4,
          grid: { display: false, drawTicks: false },
          border: { display: false },
          afterBuildTicks: (s: any) => { s.ticks = rightTickValues.map((v) => ({ value: v })); },
          afterFit: (s: any) => { s.width = 54; },
          ticks: {
            padding: 6,
            color: '#000',
            font: { family: TICK_FONT, size: 19 },
            callback: (v: number) => rightTickLabels[rightTickValues.indexOf(v)] ?? '',
          },
        },
      },
    },
    plugins: [plugin],
  };
}

function Panel({ p }: { p: PanelDef }) {
  const ref = useRef<HTMLCanvasElement>(null);
  useEffect(() => {
    if (!ref.current) return;
    const chart = new Chart(ref.current, buildConfig(p));
    return () => chart.destroy();
  }, [p]);
  return (
    <canvas
      ref={ref}
      width={987}
      height={p.h}
      style={{ position: 'absolute', left: 0, top: p.top, width: 987, height: p.h, display: 'block' }}
    />
  );
}

export default function App() {
  return (
    <div style={{ position: 'absolute', left: 0, top: 0, width: 987, height: 724, background: '#fff', overflow: 'hidden' }}>
      {panels.map((p) => (
        <Panel key={p.idx} p={p} />
      ))}
    </div>
  );
}
